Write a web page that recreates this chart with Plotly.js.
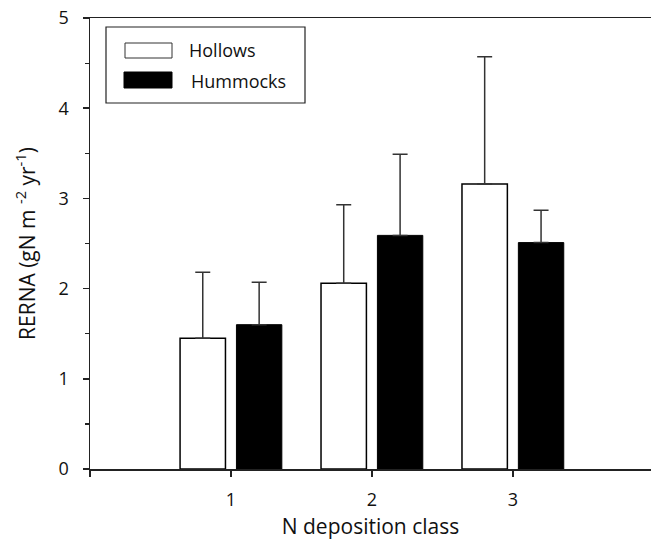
<!DOCTYPE html>
<html>
<head>
<meta charset="utf-8">
<script src="https://cdn.plot.ly/plotly-3.0.1.min.js"></script>
<style>html,body{margin:0;padding:0;background:#fff;}#chart{width:651px;height:540px;}</style>
</head>
<body>
<div id="chart"></div>
<script>
const categories = [1, 2, 3];
const seriesNames = ["Hollows", "Hummocks"];
const hollows = [1.45, 2.06, 3.16];
const hollowsErr = [0.73, 0.87, 1.41];
const hummocks = [1.60, 2.59, 2.51];
const hummocksErr = [0.47, 0.90, 0.36];
const xTickVals = [0, 1, 2, 3];
const xTickText = ["", "1", "2", "3"];
const yTickVals = [0, 1, 2, 3, 4, 5];

const FONT = "Open Sans, Noto Sans, sans-serif";
const M = {l: 90, r: 0, t: 18, b: 71};
const W = 651, H = 540;
const pw = W - M.l - M.r, ph = H - M.t - M.b;
const px = x => (x - M.l) / pw;
const py = y => (H - M.b - y) / ph;

const errStyle = {type: 'data', symmetric: false, arrayminus: [0,0,0], color: '#333', thickness: 1.5, width: 7.5, visible: true};

const traces = [
  {type: 'bar', name: seriesNames[0], x: categories, y: hollows,
   marker: {color: '#ffffff', line: {color: '#000', width: 1.5}},
   error_y: Object.assign({}, errStyle, {array: hollowsErr}), showlegend: false},
  {type: 'bar', name: seriesNames[1], x: categories, y: hummocks,
   marker: {color: '#000000', line: {color: '#000', width: 1}},
   error_y: Object.assign({}, errStyle, {array: hummocksErr}), showlegend: false}
];

const layout = {
  width: W, height: H,
  margin: M,
  paper_bgcolor: '#fff', plot_bgcolor: '#fff',
  barmode: 'group', bargap: 0.2, bargroupgap: 0.195,
  font: {family: FONT, color: '#111', size: 18},
  xaxis: {
    range: [0, 3.98], tickmode: 'array', tickvals: xTickVals, ticktext: xTickText,
    showgrid: false, zeroline: false, showline: true, mirror: true,
    linecolor: '#222', linewidth: 1.5, ticks: 'outside', ticklen: 6, tickwidth: 1.5, tickcolor: '#222',
    ticklabelstandoff: 8,
    tickfont: {size: 18, family: FONT},
    title: {text: 'N deposition class', font: {size: 21, family: FONT}, standoff: 13}
  },
  yaxis: {
    range: [0, 5], tickmode: 'array', tickvals: yTickVals,
    showgrid: false, zeroline: false, showline: true,
    linecolor: '#222', linewidth: 1.5, ticks: 'outside', ticklen: 6, tickwidth: 1.5, tickcolor: '#222',
    ticklabelstandoff: 10,
    tickfont: {size: 18, family: FONT},
    minor: {dtick: 0.5, ticks: 'outside', ticklen: 4, tickwidth: 1.2, tickcolor: '#222', showgrid: false},
    title: {text: 'RERNA (gN m <sup>-2</sup> yr<sup>-1</sup>)', font: {size: 21, family: FONT}, standoff: 17}
  },
  shapes: [
    {type: 'rect', xref: 'paper', yref: 'paper', x0: px(106), x1: px(305), y0: py(103), y1: py(27),
     line: {color: '#222', width: 1.2}, fillcolor: '#fff'},
    {type: 'rect', xref: 'paper', yref: 'paper', x0: px(125), x1: px(172), y0: py(58), y1: py(43),
     line: {color: '#333', width: 1}, fillcolor: '#fff'},
    {type: 'rect', xref: 'paper', yref: 'paper', x0: px(124), x1: px(172), y0: py(88), y1: py(72),
     line: {color: '#000', width: 1}, fillcolor: '#000'}
  ],
  annotations: [
    {xref: 'paper', yref: 'paper', x: px(187), y: py(50), text: seriesNames[0], showarrow: false,
     xanchor: 'left', yanchor: 'middle', font: {size: 18, family: FONT, color: '#111'}},
    {xref: 'paper', yref: 'paper', x: px(189), y: py(81), text: seriesNames[1], showarrow: false,
     xanchor: 'left', yanchor: 'middle', font: {size: 18, family: FONT, color: '#111'}}
  ]
};

Plotly.newPlot('chart', traces, layout, {displayModeBar: false, staticPlot: true});
</script>
</body>
</html>
